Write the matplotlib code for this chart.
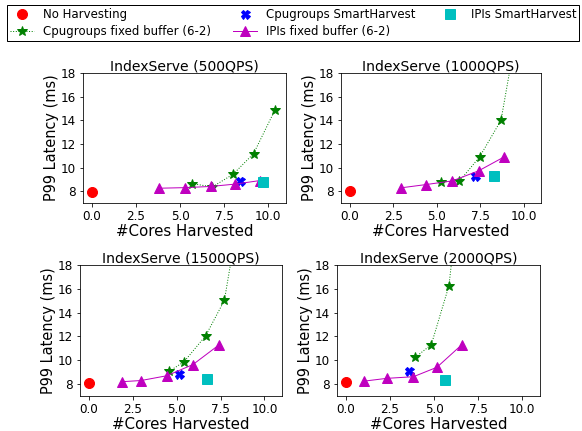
import matplotlib
matplotlib.use('Agg')
import matplotlib.pyplot as plt

# panels
titles = ['IndexServe (500QPS)', 'IndexServe (1000QPS)',
          'IndexServe (1500QPS)', 'IndexServe (2000QPS)']

# No Harvesting
noh_x = [[0.0], [0.0], [0.0], [0.0]]
noh_y = [[7.9], [8.0], [8.1], [8.2]]

# Cpugroups fixed buffer (6-2)  (last points of some panels go off the chart)
cpu_fixed_x = [[5.67, 6.83, 8.0, 9.16, 10.37],
               [5.24, 6.31, 7.47, 8.70, 9.6],
               [4.58, 5.42, 6.65, 7.72, 8.3],
               [3.93, 4.84, 5.84, 6.2]]
cpu_fixed_y = [[8.64, 8.36, 9.43, 11.17, 14.86],
               [8.79, 8.85, 10.9, 14.0, 21.5],
               [9.08, 9.87, 12.05, 15.03, 20.1],
               [10.25, 11.3, 16.25, 21.0]]

# Cpugroups SmartHarvest
cpu_sh_x = [[8.41], [7.18], [5.14], [3.6]]
cpu_sh_y = [[8.84], [9.32], [8.85], [9.07]]

# IPIs fixed buffer (6-2)
ipi_fixed_x = [[3.8, 5.28, 6.73, 8.13, 9.53],
               [2.93, 4.39, 5.9, 7.41, 8.88],
               [1.88, 2.98, 4.44, 5.93, 7.42],
               [1.04, 2.31, 3.83, 5.16, 6.58]]
ipi_fixed_y = [[8.25, 8.3, 8.4, 8.6, 8.9],
               [8.28, 8.56, 8.87, 9.72, 10.9],
               [8.2, 8.3, 8.7, 9.64, 11.3],
               [8.25, 8.48, 8.62, 9.41, 11.32]]

# IPIs SmartHarvest
ipi_sh_x = [[9.68], [8.32], [6.74], [5.64]]
ipi_sh_y = [[8.78], [9.27], [8.45], [8.34]]

# 72 dpi so that sizes below are pixels
W, H = 582, 431
fig = plt.figure(figsize=(W / 72, H / 72), dpi=72)

# axes boxes in pixels: left, right, top, bottom
boxes = [(83, 286, 73, 203), (341, 541, 73, 203),
         (80, 282, 265, 396), (337, 540, 265, 396)]

for i, (l, r, t, b) in enumerate(boxes):
    ax = fig.add_axes([l / W, 1 - b / H, (r - l) / W, (b - t) / H])
    h1, = ax.plot(noh_x[i], noh_y[i], 'o', color='r', ms=10, label='No Harvesting')
    h2, = ax.plot(cpu_fixed_x[i], cpu_fixed_y[i], '*:', color='g', ms=10, lw=1,
                  label='Cpugroups fixed buffer (6-2)')
    h3, = ax.plot(cpu_sh_x[i], cpu_sh_y[i], 'X', color='b', ms=9,
                  label='Cpugroups SmartHarvest')
    h4, = ax.plot(ipi_fixed_x[i], ipi_fixed_y[i], '^-', color='m', ms=10, lw=1,
                  label='IPIs fixed buffer (6-2)')
    h5, = ax.plot(ipi_sh_x[i], ipi_sh_y[i], 's', color='c', ms=10,
                  label='IPIs SmartHarvest')
    ax.set_xlim(-0.5, 11)
    ax.set_ylim(7, 18)
    ax.set_xticks([0, 2.5, 5, 7.5, 10])
    ax.set_yticks([8, 10, 12, 14, 16, 18])
    ax.tick_params(labelsize=12)
    ax.set_title(titles[i], fontsize=14, pad=3)
    ax.set_ylabel('P99 Latency (ms)', fontsize=14.5, labelpad=2)
    ax.set_xlabel('#Cores Harvested', fontsize=15, labelpad=1)

leg = fig.legend([h1, h2, h3, h4, h5],
                 [h.get_label() for h in [h1, h2, h3, h4, h5]],
                 loc='upper left', bbox_to_anchor=(7.3 / W, 1 - 4.7 / H),
                 ncol=3, fontsize=11.7, fancybox=False, edgecolor='black',
                 framealpha=1, borderaxespad=0, borderpad=0.27,
                 labelspacing=0.36, columnspacing=1.9)
leg.get_frame().set_linewidth(1)

fig.savefig('out.png', dpi=72)
